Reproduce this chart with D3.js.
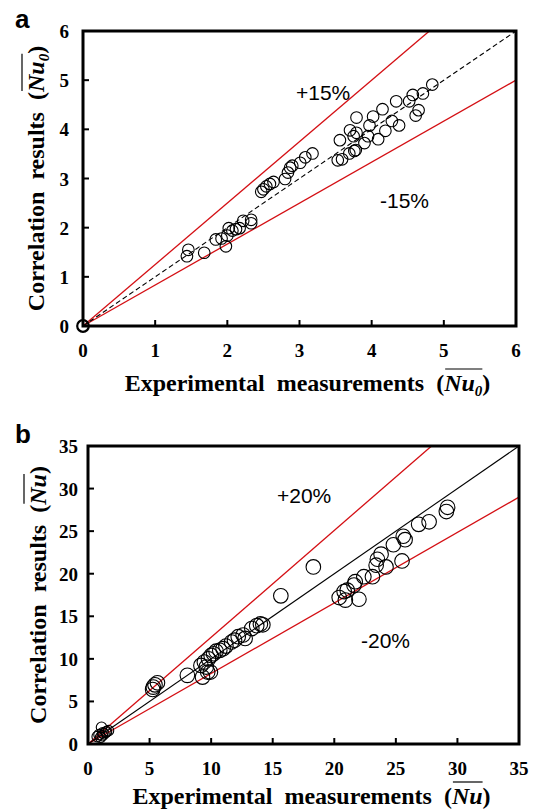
<!DOCTYPE html>
<html>
<head>
<meta charset="utf-8">
<script src="https://cdn.jsdelivr.net/npm/d3@7"></script>
<style>
  body { margin: 0; background: #fff; }
  svg { display: block; }
  .tick-label { font-family: "Liberation Serif", "Times New Roman", serif; font-weight: bold; font-size: 19px; }
  .axis-title { font-family: "Liberation Serif", "Times New Roman", serif; font-weight: bold; font-size: 24px; word-spacing: 6px; }
  .band-label { font-family: "Liberation Sans", Arial, sans-serif; font-size: 21px; }
  .panel-label { font-family: "Liberation Sans", Arial, sans-serif; font-weight: bold; font-size: 26px; }
</style>
</head>
<body>
<div id="chart"></div>
<script>
// Panel a data: experimental vs correlation Nu0
const a_ticks = [0, 1, 2, 3, 4, 5, 6];
const a_exp = [0, 1.46, 1.44, 1.68, 1.84, 1.92, 1.98, 2.0, 2.02, 2.07, 2.12, 2.17, 2.22, 2.33, 2.33,
  2.47, 2.5, 2.54, 2.59, 2.64, 2.8, 2.84, 2.87, 2.9, 3.01, 3.08, 3.18,
  3.53, 3.59, 3.56, 3.69, 3.76, 3.78, 3.7, 3.75, 3.79, 3.79, 3.9, 3.95, 3.97, 4.02, 4.09,
  4.15, 4.19, 4.28, 4.34, 4.38, 4.52, 4.57, 4.61, 4.65, 4.71, 4.84];
const a_corr = [0, 1.55, 1.42, 1.49, 1.76, 1.78, 1.62, 1.84, 1.99, 1.94, 1.97, 1.99, 2.14, 2.16, 2.09,
  2.73, 2.78, 2.84, 2.89, 2.93, 2.99, 3.12, 3.22, 3.26, 3.32, 3.43, 3.51,
  3.37, 3.39, 3.78, 3.51, 3.56, 3.58, 3.98, 3.86, 3.93, 4.24, 3.72, 3.86, 4.08, 4.26, 3.8,
  4.41, 3.97, 4.17, 4.57, 4.08, 4.57, 4.7, 4.28, 4.39, 4.73, 4.91];
// reference lines [x0, y0, x1, y1]
const a_equal = [0, 0, 6, 6];
const a_upper = [0, 0, 4.8, 6];
const a_lower = [0, 0, 6, 5];

// Panel b data: experimental vs correlation Nu
const b_ticks = [0, 5, 10, 15, 20, 25, 30, 35];
const b_exp = [0.75, 1.1, 1.16, 1.44, 1.66, 1.3, 1.02, 0.9, 1.5, 1.2,
  5.3, 5.44, 5.64, 5.25, 8.07,
  9.17, 9.45, 9.3, 9.72, 9.94, 9.6, 9.78, 10.0, 10.2, 10.4, 10.7, 10.97, 11.2, 11.66, 11.9, 12.2, 12.6, 12.76, 13.3, 13.7, 14.0, 14.2,
  15.66, 18.3,
  20.4, 20.8, 20.9, 21.05, 21.6, 21.7, 22.0, 22.4, 23.1, 23.4, 23.5, 23.8, 24.2, 24.8, 25.5, 25.6, 25.75, 26.85, 27.7, 29.1, 29.2];
const b_corr = [0.86, 1.96, 0.98, 1.38, 1.57, 1.18, 0.79, 1.1, 1.45, 1.3,
  6.68, 6.95, 7.19, 6.4, 8.06,
  9.23, 9.63, 7.86, 8.45, 8.45, 9.04, 10.0, 10.4, 10.6, 10.9, 11.0, 11.2, 11.5, 11.98, 12.2, 12.6, 12.8, 12.4, 13.56, 13.9, 14.1, 14.0,
  17.4, 20.8,
  17.2, 17.9, 16.9, 18.07, 18.66, 19.06, 17.0, 19.65, 19.65, 21.0, 21.7, 22.3, 20.8, 23.4, 21.5, 24.4, 24.0, 25.8, 26.1, 27.3, 27.8];
const b_equal = [0, 0, 35, 35];
const b_upper = [0, 0, 27.9, 35];
const b_lower = [0, 0, 35, 29];

const svg = d3.select("#chart").append("svg")
  .attr("width", 536)
  .attr("height", 811);

function drawPanel(p) {
  let x = d3.scaleLinear().domain(p.domain).range([p.left, p.right]);
  let y = d3.scaleLinear().domain(p.domain).range([p.bottom, p.top]);
  let g = svg.append("g");

  // reference lines
  let lines = [
    {c: p.upper, color: "#d40f14", dash: null, w: 1.3},
    {c: p.lower, color: "#d40f14", dash: null, w: 1.3},
    {c: p.equal, color: "#000", dash: p.equalDash, w: 1.1}
  ];
  lines.forEach(function(l) {
    g.append("line")
      .attr("x1", x(l.c[0])).attr("y1", y(l.c[1]))
      .attr("x2", x(l.c[2])).attr("y2", y(l.c[3]))
      .attr("stroke", l.color)
      .attr("stroke-width", l.w)
      .attr("stroke-dasharray", l.dash);
  });

  // data circles
  let pts = p.xs.map(function(v, i) { return [v, p.ys[i]]; });
  g.selectAll("circle.pt").data(pts).enter()
    .append("circle")
    .attr("class", "pt")
    .attr("cx", function(d) { return x(d[0]); })
    .attr("cy", function(d) { return y(d[1]); })
    .attr("r", function(d) { return d[0] < 2 && p.smallNear ? p.r - 2 : p.r; })
    .attr("fill", "none")
    .attr("stroke", "#000")
    .attr("stroke-width", function(d) { return d[0] === 0 ? 2.2 : 1.1; });

  // ticks (inside)
  p.ticks.slice(1).forEach(function(t) {
    g.append("line").attr("x1", x(t)).attr("x2", x(t))
      .attr("y1", p.bottom).attr("y2", p.bottom - 6)
      .attr("stroke", "#000").attr("stroke-width", 2);
    g.append("line").attr("x1", p.left).attr("x2", p.left + 6)
      .attr("y1", y(t)).attr("y2", y(t))
      .attr("stroke", "#000").attr("stroke-width", 2);
  });

  // frame
  g.append("rect")
    .attr("x", p.left).attr("y", p.top)
    .attr("width", p.right - p.left).attr("height", p.bottom - p.top)
    .attr("fill", "none").attr("stroke", "#000").attr("stroke-width", 3);

  // tick labels
  g.selectAll("text.xt").data(p.ticks).enter()
    .append("text").attr("class", "tick-label")
    .attr("x", function(d) { return x(d); })
    .attr("y", p.bottom + 31)
    .attr("text-anchor", "middle")
    .text(function(d) { return d; });
  g.selectAll("text.yt").data(p.ticks).enter()
    .append("text").attr("class", "tick-label")
    .attr("x", p.left - p.yLabelGap)
    .attr("y", function(d) { return y(d) + 7; })
    .attr("text-anchor", "end")
    .text(function(d) { return d; });

  // band labels
  g.append("text").attr("class", "band-label").attr("x", p.plusPos[0]).attr("y", p.plusPos[1]).text(p.plusText);
  g.append("text").attr("class", "band-label").attr("x", p.minusPos[0]).attr("y", p.minusPos[1]).text(p.minusText);

  // axis titles
  axisTitle(g, "Experimental measurements ", p.sub, (p.left + p.right) / 2 + 8, p.xTitleY, 0);
  axisTitle(g, "Correlation results ", p.sub, p.yTitleX, (p.top + p.bottom) / 2, -90);

  // panel letter
  svg.append("text").attr("class", "panel-label")
    .attr("x", 15).attr("y", p.top - 3).text(p.letter);
}

function axisTitle(g, label, sub, cx, cy, rot) {
  let t = g.append("text").attr("class", "axis-title")
    .attr("text-anchor", "middle")
    .attr("transform", `translate(${cx}, ${cy}) rotate(${rot})`);
  t.append("tspan").text(label + "(");
  t.append("tspan").attr("font-style", "italic").text("Nu");
  if (sub) {
    t.append("tspan").attr("font-style", "italic").attr("font-size", "15px").attr("dy", 5).text(sub);
    t.append("tspan").attr("dy", -5).text(")");
  } else {
    t.append("tspan").text(")");
  }
  // overline above Nu(+sub)
  let node = t.node();
  let start = label.length + 1;
  let end = start + 2 + (sub ? sub.length : 0) - 1;
  let e1 = node.getExtentOfChar(start);
  let e2 = node.getExtentOfChar(end);
  g.append("line")
    .attr("transform", `translate(${cx}, ${cy}) rotate(${rot})`)
    .attr("x1", e1.x + 1).attr("x2", e2.x + e2.width)
    .attr("y1", e1.y - 1).attr("y2", e1.y - 1)
    .attr("stroke", "#000").attr("stroke-width", 1.2);
}

drawPanel({
  letter: "a", domain: [0, 6], ticks: a_ticks,
  left: 83, right: 516, top: 31, bottom: 326,
  xs: a_exp, ys: a_corr, r: 5.8, smallNear: false,
  equal: a_equal, upper: a_upper, lower: a_lower, equalDash: "5,3",
  plusText: "+15%", plusPos: [296, 100], minusText: "-15%", minusPos: [380, 208],
  sub: "0", yTitleX: 44, xTitleY: 391, yLabelGap: 14
});

drawPanel({
  letter: "b", domain: [0, 35], ticks: b_ticks,
  left: 88, right: 519, top: 446, bottom: 744,
  xs: b_exp, ys: b_corr, r: 7.3, smallNear: true,
  equal: b_equal, upper: b_upper, lower: b_lower, equalDash: null,
  plusText: "+20%", plusPos: [277, 503], minusText: "-20%", minusPos: [361, 648],
  sub: null, yTitleX: 46, xTitleY: 804, yLabelGap: 10
});
</script>
</body>
</html>
